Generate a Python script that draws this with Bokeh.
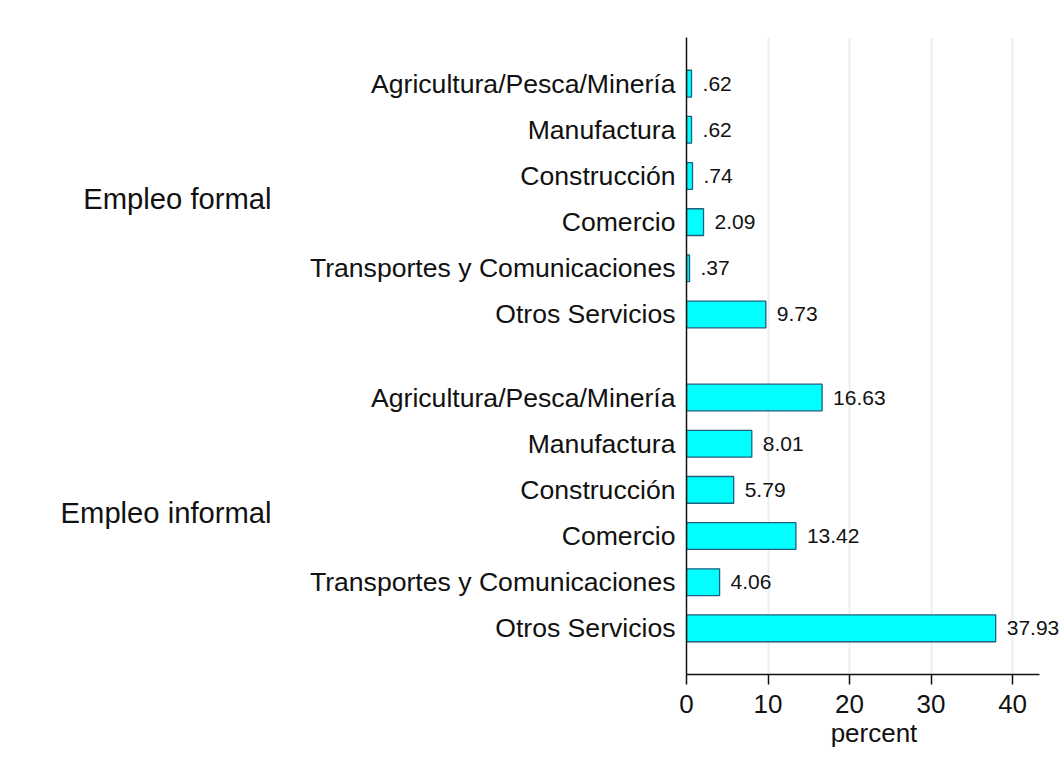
from bokeh.plotting import figure
from bokeh.models import FactorRange, ColumnDataSource, LabelSet, FixedTicker, CategoricalAxis
from bokeh.core.properties import value
from bokeh.embed import file_html
from bokeh.resources import INLINE

groups = ["Empleo formal", "Empleo informal"]
sectors = ["Agricultura/Pesca/Minería", "Manufactura", "Construcción", "Comercio",
           "Transportes y Comunicaciones", "Otros Servicios"]
formal_values = [0.62, 0.62, 0.74, 2.09, 0.37, 9.73]
informal_values = [16.63, 8.01, 5.79, 13.42, 4.06, 37.93]
formal_labels = [".62", ".62", ".74", "2.09", ".37", "9.73"]
informal_labels = ["16.63", "8.01", "5.79", "13.42", "4.06", "37.93"]
x_ticks = [0, 10, 20, 30, 40]

factors = [(g, s) for g in groups for s in sectors]
values = formal_values + informal_values
labels = formal_labels + informal_labels

src = ColumnDataSource(dict(y=factors, x=values, lab=labels))

FONT = "Liberation Sans"
INK = "#111111"

GROUP_PAD = 0.8
END_PAD = 0.5
yr = FactorRange(*list(reversed(factors)), group_padding=GROUP_PAD,
                 range_padding=END_PAD, range_padding_units="absolute")

# a second range holding only the group names, laid out to share the same span
n = len(sectors)
group_range = FactorRange(*list(reversed(groups)),
                          factor_padding=n - 1 + GROUP_PAD,
                          range_padding=(n - 1) / 2 + END_PAD,
                          range_padding_units="absolute")

p = figure(width=1061, height=765, y_range=yr, x_range=(0, 46.0),
           output_backend="svg", toolbar_location=None,
           min_border_left=686, min_border_right=0, min_border_top=37,
           min_border_bottom=91)
p.outline_line_color = None
p.background_fill_color = "white"
p.border_fill_color = "white"
p.extra_y_ranges = {"groups": group_range}

p.hbar(y="y", right="x", left=0, height=0.58, source=src,
       fill_color="#00FFFF", line_color="#1f5f7f", line_width=1.3)

p.add_layout(LabelSet(x="x", y="y", text="lab", source=src, x_offset=11,
                      text_baseline="middle", text_align="left",
                      text_font=value(FONT), text_font_size=value("21px"),
                      text_color=INK))

# x axis
xa = p.xaxis[0]
xa.ticker = FixedTicker(ticks=x_ticks)
xa.bounds = (0, 43.3)
xa.axis_label = "percent"
xa.axis_label_text_font = FONT
xa.axis_label_text_font_style = "normal"
xa.axis_label_text_font_size = "26px"
xa.axis_label_standoff = 2
xa.axis_label_text_color = INK
xa.major_label_text_font = FONT
xa.major_label_text_font_size = "26px"
xa.major_label_text_color = INK
xa.major_label_standoff = 10
xa.major_tick_in = 0
xa.major_tick_out = 10
xa.major_tick_line_width = 1.5
xa.minor_tick_line_color = None
xa.axis_line_width = 1.5
xa.axis_line_color = INK
xa.major_tick_line_color = INK

# y axis: sector labels
ya = p.yaxis[0]
ya.major_tick_line_color = None
ya.minor_tick_line_color = None
ya.axis_line_width = 1.5
ya.axis_line_color = INK
ya.major_label_text_font = FONT
ya.major_label_text_font_size = "26.6px"
ya.major_label_text_color = INK
ya.major_label_standoff = 5
ya.group_text_alpha = 0
ya.group_text_font_size = "0px"
ya.group_label_orientation = "horizontal"
ya.separator_line_alpha = 0

# second left axis: group names
ga = CategoricalAxis(y_range_name="groups")
ga.axis_line_color = None
ga.major_tick_line_color = None
ga.minor_tick_line_color = None
ga.major_label_text_font = FONT
ga.major_label_text_font_size = "29.2px"
ga.major_label_text_color = INK
ga.major_label_standoff = 29
p.add_layout(ga, "left")

p.ygrid.grid_line_color = None
p.xgrid.ticker = FixedTicker(ticks=[10, 20, 30, 40])
p.xgrid.grid_line_color = "#e6f0f2"
p.xgrid.grid_line_width = 2

open("out.html", "w").write(file_html(p, INLINE))
